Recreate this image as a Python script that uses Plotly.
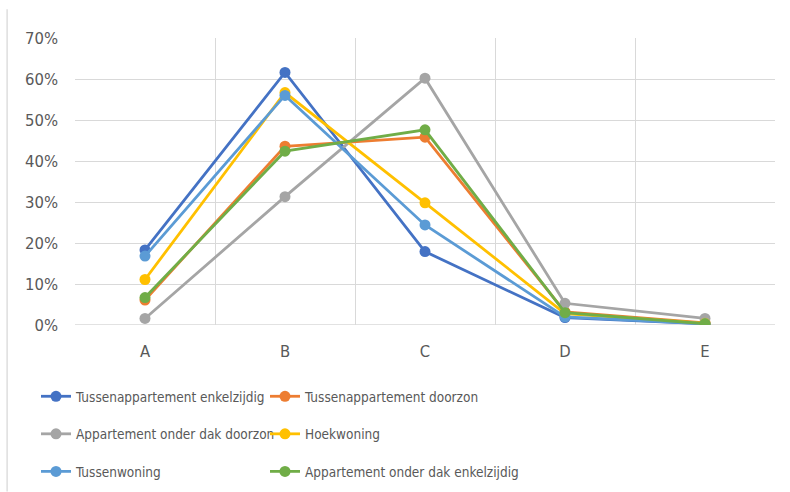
import plotly.graph_objects as go

categories = ["A", "B", "C", "D", "E"]
tick_vals = [0, 0.1, 0.2, 0.3, 0.4, 0.5, 0.6, 0.7]
tick_text = ["0%", "10%", "20%", "30%", "40%", "50%", "60%", "70%"]

tussenapp_enkelzijdig = [0.183, 0.616, 0.179, 0.018, 0.003]
tussenapp_doorzon = [0.061, 0.436, 0.458, 0.032, 0.005]
app_dak_doorzon = [0.016, 0.313, 0.602, 0.053, 0.016]
hoekwoning = [0.111, 0.567, 0.298, 0.028, 0.004]
tussenwoning = [0.168, 0.560, 0.244, 0.020, 0.003]
app_dak_enkelzijdig = [0.067, 0.424, 0.476, 0.030, 0.003]

series = [
    ("Tussenappartement enkelzijdig", tussenapp_enkelzijdig, "#4472C4", "legend"),
    ("Tussenappartement doorzon", tussenapp_doorzon, "#ED7D31", "legend2"),
    ("Appartement onder dak doorzon", app_dak_doorzon, "#A5A5A5", "legend"),
    ("Hoekwoning", hoekwoning, "#FFC000", "legend2"),
    ("Tussenwoning", tussenwoning, "#5B9BD5", "legend"),
    ("Appartement onder dak enkelzijdig", app_dak_enkelzijdig, "#70AD47", "legend2"),
]

FONT = "DejaVu Sans Condensed, Lato, sans-serif"
TEXT = "#595959"
GRID = "#D9D9D9"

x_pos = list(range(len(categories)))

fig = go.Figure()
for i, (name, vals, color, leg) in enumerate(series):
    fig.add_trace(go.Scatter(
        x=x_pos, y=vals, name=name, mode="lines+markers",
        line=dict(color=color, width=2.8),
        marker=dict(color=color, size=11),
        legend=leg, legendgroup=f"g{i}",
    ))

legend_common = dict(
    orientation="v", xanchor="left", yanchor="top",
    xref="container", yref="container",
    font=dict(family=FONT, size=13.5, color=TEXT),
    bgcolor="rgba(0,0,0,0)", tracegroupgap=17, itemwidth=30,
)

fig.update_layout(
    width=790, height=492,
    margin=dict(l=75, r=15, t=38, b=167, autoexpand=False),
    paper_bgcolor="white", plot_bgcolor="white",
    font=dict(family=FONT, size=16, color=TEXT),
    showlegend=True,
    legend=dict(x=36 / 790, y=1 - 381 / 492, **legend_common),
    legend2=dict(x=265 / 790, y=1 - 381 / 492, **legend_common),
    xaxis=dict(
        range=[-0.5, 4.5], tickvals=x_pos, ticktext=categories,
        showgrid=False, zeroline=False, showline=False, ticks="",
        tickfont=dict(family=FONT, size=16.5, color=TEXT),
        ticklabelstandoff=14,
        minor=dict(tickvals=[-0.5, 0.5, 1.5, 2.5, 3.5, 4.5], showgrid=True,
                   gridcolor=GRID, gridwidth=1.3, ticks=""),
        fixedrange=True,
    ),
    yaxis=dict(
        range=[0, 0.7], tickvals=tick_vals, ticktext=tick_text,
        showgrid=True, gridcolor=GRID, gridwidth=1.3,
        zeroline=False, showline=False, ticks="",
        tickfont=dict(family=FONT, size=16.5, color=TEXT),
        ticklabelstandoff=16,
        fixedrange=True,
    ),
    shapes=[
        dict(type="line", xref="paper", yref="paper",
             x0=-0.097, x1=-0.097, y0=1.1, y1=-0.58,
             line=dict(color=GRID, width=1.3)),
        dict(type="line", xref="paper", yref="y",
             x0=0, x1=1, y0=0, y1=0, layer="below",
             line=dict(color=GRID, width=1.5)),
    ],
)

fig.write_html("out.html")
